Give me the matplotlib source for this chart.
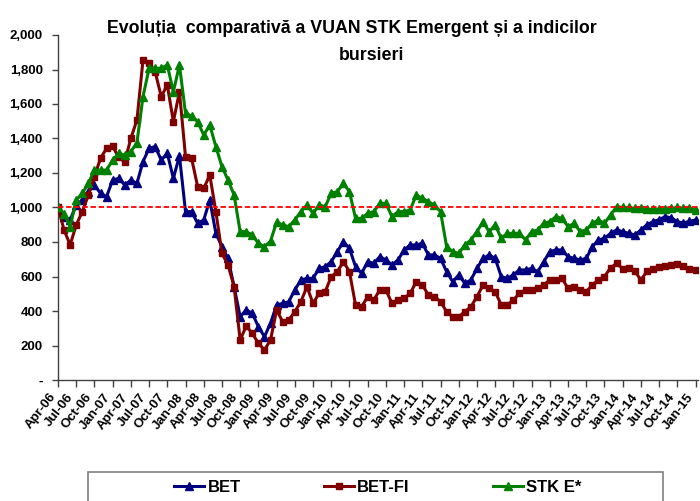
import pandas as pd
import matplotlib
matplotlib.use('Agg')
import matplotlib.pyplot as plt
from matplotlib.patches import Rectangle
from matplotlib.ticker import FuncFormatter

plt.rcParams['font.family'] = ['Liberation Sans', 'DejaVu Sans']
plt.rcParams['font.weight'] = 'bold'

# monthly values, Apr-06 .. Jan-15 (base = 1000)
bet = [1000, 947, 928, 1014, 1043, 1092, 1130, 1082, 1063, 1159,
       1169, 1130, 1159, 1140, 1266, 1343, 1353, 1275, 1314, 1169,
       1300, 976, 976, 908, 928, 1043, 850, 773, 705, 541,
       367, 406, 386, 309, 251, 329, 435, 444, 454, 522,
       580, 589, 589, 647, 657, 686, 744, 802, 763, 657,
       618, 686, 676, 715, 696, 667, 696, 754, 783, 783,
       792, 725, 725, 705, 628, 570, 609, 560, 580, 647,
       705, 725, 705, 599, 589, 610, 638, 638, 647, 628,
       686, 744, 754, 754, 715, 705, 696, 705, 773, 812,
       821, 850, 870, 860, 850, 841, 870, 900, 918, 930,
       947, 940, 918, 910, 920, 928]
bet_fi = [1000, 870, 783, 899, 976, 1072, 1179, 1285, 1343, 1355,
          1290, 1265, 1401, 1507, 1855, 1836, 1787, 1643, 1710, 1498,
          1671, 1295, 1285, 1121, 1111, 1188, 976, 734, 667, 541,
          232, 313, 270, 213, 174, 232, 406, 338, 348, 396,
          454, 541, 444, 502, 512, 599, 628, 686, 628, 435,
          425, 483, 464, 522, 522, 444, 464, 473, 502, 570,
          551, 493, 483, 454, 396, 367, 367, 396, 425, 483,
          551, 531, 512, 435, 435, 464, 502, 522, 522, 531,
          551, 580, 580, 589, 531, 541, 522, 512, 551, 580,
          600, 650, 676, 645, 650, 630, 580, 630, 645, 655,
          660, 665, 672, 660, 645, 640]
stk_e = [1000, 965, 889, 1043, 1082, 1140, 1217, 1217, 1217, 1275,
         1314, 1304, 1324, 1376, 1643, 1807, 1807, 1807, 1826, 1671,
         1826, 1546, 1530, 1498, 1420, 1478, 1353, 1237, 1159, 1072,
         860, 860, 841, 792, 773, 805, 915, 899, 889, 928,
         976, 1014, 966, 1014, 1005, 1082, 1092, 1140, 1092, 937,
         937, 966, 976, 1024, 1024, 947, 976, 976, 986, 1072,
         1053, 1034, 1014, 976, 773, 744, 734, 783, 812, 860,
         918, 860, 899, 821, 850, 850, 850, 812, 860, 870,
         908, 918, 947, 937, 889, 908, 860, 870, 908, 928,
         908, 957, 1005, 1000, 1000, 995, 995, 990, 990, 990,
         990, 995, 1000, 995, 995, 985]
base_level = 1000

months = pd.date_range('2006-04-01', periods=len(bet), freq='MS')
tick_idx = list(range(0, len(months), 3))
tick_labels = [months[i].strftime('%b-%y') for i in tick_idx]


def main():
    fig = plt.figure(figsize=(7, 5.01), dpi=100)
    ax = fig.add_axes([58 / 700, 1 - 380 / 501, 640 / 700, 345 / 501])

    x = list(range(len(bet)))
    ax.plot(x, bet, color='#000080', lw=2.2, marker='^', ms=6.2,
            label='BET', zorder=3)
    ax.plot(x, bet_fi, color='#800000', lw=2.2, marker='s', ms=4.2,
            label='BET-FI', zorder=4)
    ax.plot(x, stk_e, color='#008000', lw=2.2, marker='^', ms=6.2,
            label='STK E*', zorder=5)
    ax.axhline(base_level, color='#ff0000', lw=1.3, ls=(0, (3, 1.5)), zorder=6)

    ax.set_xlim(0, 105.4)
    ax.set_ylim(0, 2000)
    ax.set_yticks(range(0, 2001, 200))
    ax.yaxis.set_major_formatter(
        FuncFormatter(lambda v, p: '-' if v == 0 else f'{int(v):,}'))
    ax.set_xticks(tick_idx)
    ax.set_xticklabels(tick_labels, rotation=52, ha='right', va='top')

    for s in ['top', 'right']:
        ax.spines[s].set_visible(False)
    for s in ['left', 'bottom']:
        ax.spines[s].set_color('#404040')
        ax.spines[s].set_linewidth(1.0)
    ax.tick_params(axis='y', length=4, width=1, color='#404040', pad=7,
                   labelsize=9.5)
    ax.tick_params(axis='x', length=5, width=1, color='#404040', pad=3,
                   labelsize=9.5)

    fig.text(0.503, 1 - 33 / 501,
             'Evoluția  comparativă a VUAN STK Emergent și a indicilor',
             ha='center', va='baseline', fontsize=12.8, fontweight='bold')
    fig.text(0.53, 1 - 60 / 501, 'bursieri',
             ha='center', va='baseline', fontsize=12.8, fontweight='bold')

    # legend box, cut off by the bottom edge like the original
    fig.patches.append(Rectangle((88 / 700, -0.05), 575 / 700, 0.05 + 29 / 501,
                                 transform=fig.transFigure, fill=False,
                                 edgecolor='#808080', lw=1.2))
    fig.legend(loc='center', bbox_to_anchor=(378 / 700, 1 - 487 / 501),
               ncol=3, frameon=False, fontsize=12, handlelength=1.8,
               handletextpad=0.2, columnspacing=5.0)

    fig.savefig('out.png', dpi=100)


if __name__ == '__main__':
    main()
